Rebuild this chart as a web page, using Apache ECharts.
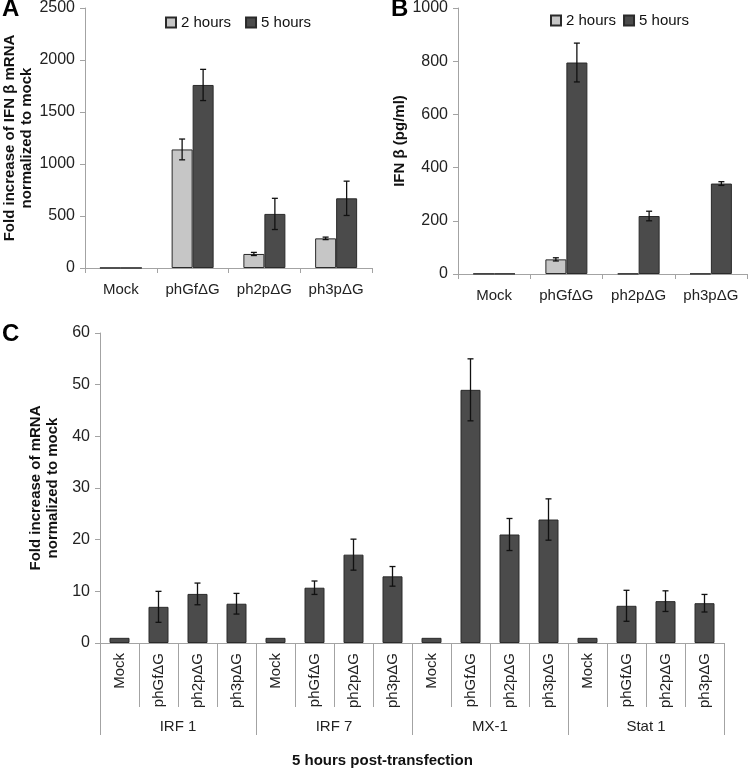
<!DOCTYPE html>
<html>
<head>
<meta charset="utf-8">
<script src="https://cdn.jsdelivr.net/npm/echarts@6/dist/echarts.min.js"></script>
<style>
  html, body { margin: 0; padding: 0; background: #fff; }
  #main { width: 750px; height: 771px; }
</style>
</head>
<body>
<div id="main"></div>
<script>
// panel A / B categories
const constructs = ['Mock', 'phGfΔG', 'ph2pΔG', 'ph3pΔG']
// A: IFN beta mRNA fold increase
const mrna2h = [1, 1140, 135, 285]
const mrna2hErr = [0, 100, 15, 12]
const mrna5h = [1, 1760, 520, 670]
const mrna5hErr = [0, 150, 150, 165]
// B: IFN beta protein (pg/ml)
const ifn2h = [1, 55, 1, 1]
const ifn2hErr = [0, 6, 0, 0]
const ifn5h = [1, 795, 218, 340]
const ifn5hErr = [0, 73, 18, 7]
// C: ISG mRNA, 5 hours
const genes = ['IRF 1', 'IRF 7', 'MX-1', 'Stat 1']
const geneVals = [1, 7.0, 9.5, 7.6, 1, 10.7, 17.1, 12.9, 1, 49.0, 21.0, 23.9, 1, 7.2, 8.1, 7.7]
const geneErr = [0, 3.0, 2.1, 2.0, 0, 1.3, 3.0, 1.9, 0, 6.0, 3.1, 4.0, 0, 3.0, 2.0, 1.7]

const FONT = "'Liberation Sans', Arial, sans-serif"
const LIGHT = '#c6c6c6'
const DARK = '#4b4b4b'
const AXIS = '#a3a3a3'

// C has one category per gene x construct
const cCats = []
genes.forEach(g => constructs.forEach(c => cCats.push(g + '|' + c)))

function errData(vals, errs) {
  return vals.map((v, i) => [i, v, errs[i]])
}

// error bars drawn on top of bars, shifted to the bar centre
function errRender(offset) {
  return function (params, api) {
    const e = api.value(2)
    if (!e) return null
    const x = api.value(0)
    const v = api.value(1)
    const hi = api.coord([x, v + e])
    const lo = api.coord([x, v - e])
    const cx = hi[0] + offset
    const style = { stroke: '#111', lineWidth: 1.3 }
    return {
      type: 'group',
      children: [
        { type: 'line', shape: { x1: cx, y1: hi[1], x2: cx, y2: lo[1] }, style },
        { type: 'line', shape: { x1: cx - 3, y1: hi[1], x2: cx + 3, y2: hi[1] }, style },
        { type: 'line', shape: { x1: cx - 3, y1: lo[1], x2: cx + 3, y2: lo[1] }, style }
      ]
    }
  }
}

const axisLabel = { color: '#222', fontSize: 16, fontFamily: FONT }
const nameStyle = { color: '#111', fontSize: 15, fontWeight: 'bold', fontFamily: FONT, lineHeight: 17 }

function valueAxis(grid, max, interval, name, gap) {
  return {
    type: 'value', gridIndex: grid, min: 0, max: max, interval: interval,
    name: name, nameLocation: 'middle', nameGap: gap, nameRotate: 90,
    nameTextStyle: nameStyle,
    axisLine: { show: true, lineStyle: { color: AXIS } },
    axisTick: { show: true, length: 5, lineStyle: { color: AXIS } },
    axisLabel: Object.assign({ margin: 10, formatter: v => String(v) }, axisLabel),
    splitLine: { show: false }
  }
}

function catAxis(grid) {
  return {
    type: 'category', gridIndex: grid, data: constructs,
    axisLine: { show: true, lineStyle: { color: AXIS } },
    axisTick: { show: true, length: 5, lineStyle: { color: AXIS } },
    axisLabel: Object.assign({ margin: 14, interval: 0 }, axisLabel, { fontSize: 15 })
  }
}

const barStyle = c => ({ color: c, borderColor: '#2a2a2a', borderWidth: 1 })

const legendBase = {
  data: ['2 hours', '5 hours'], icon: 'rect', itemWidth: 10, itemHeight: 10,
  textStyle: { fontSize: 15, color: '#111', fontFamily: FONT }
}

const option = {
  animation: false,
  backgroundColor: '#fff',
  textStyle: { fontFamily: FONT },
  grid: [
    { left: 83, top: 8, width: 289, height: 260 },
    { left: 458, top: 7, width: 289, height: 267 },
    { left: 100, top: 333, width: 624, height: 310 }
  ],
  legend: [
    Object.assign({ left: 160, top: 10, itemGap: 14 }, legendBase),
    Object.assign({ left: 545, top: 8, itemGap: 7 }, legendBase)
  ],
  xAxis: [
    catAxis(0),
    catAxis(1),
    {
      type: 'category', gridIndex: 2, data: cCats,
      axisLine: { show: true, lineStyle: { color: AXIS } },
      axisTick: { show: true, interval: 0, length: 64, lineStyle: { color: AXIS } },
      axisLabel: Object.assign({}, axisLabel, {
        fontSize: 15, rotate: 90, margin: 10, interval: 0,
        formatter: v => v.split('|')[1]
      })
    },
    {
      type: 'category', gridIndex: 2, data: genes, position: 'bottom',
      axisLine: { show: false },
      axisTick: { show: true, interval: 0, length: 92, lineStyle: { color: AXIS } },
      axisLabel: Object.assign({}, axisLabel, { fontSize: 15, margin: 76, interval: 0 })
    }
  ],
  yAxis: [
    valueAxis(0, 2500, 500, 'Fold increase of IFN β mRNA\nnormalized to mock', 50),
    valueAxis(1, 1000, 200, 'IFN β (pg/ml)', 45),
    valueAxis(2, 60, 10, 'Fold increase of mRNA\nnormalized to mock', 38)
  ],
  series: [
    { name: '2 hours', type: 'bar', xAxisIndex: 0, yAxisIndex: 0, data: mrna2h, barWidth: 21, barGap: '0%', itemStyle: barStyle(LIGHT) },
    { name: '5 hours', type: 'bar', xAxisIndex: 0, yAxisIndex: 0, data: mrna5h, barWidth: 21, barGap: '0%', itemStyle: barStyle(DARK) },
    { type: 'custom', xAxisIndex: 0, yAxisIndex: 0, data: errData(mrna2h, mrna2hErr), renderItem: errRender(-10.5), z: 5 },
    { type: 'custom', xAxisIndex: 0, yAxisIndex: 0, data: errData(mrna5h, mrna5hErr), renderItem: errRender(10.5), z: 5 },

    { name: '2 hours', type: 'bar', xAxisIndex: 1, yAxisIndex: 1, data: ifn2h, barWidth: 21, barGap: '0%', itemStyle: barStyle(LIGHT) },
    { name: '5 hours', type: 'bar', xAxisIndex: 1, yAxisIndex: 1, data: ifn5h, barWidth: 21, barGap: '0%', itemStyle: barStyle(DARK) },
    { type: 'custom', xAxisIndex: 1, yAxisIndex: 1, data: errData(ifn2h, ifn2hErr), renderItem: errRender(-10.5), z: 5 },
    { type: 'custom', xAxisIndex: 1, yAxisIndex: 1, data: errData(ifn5h, ifn5hErr), renderItem: errRender(10.5), z: 5 },

    { name: 'genes', type: 'bar', xAxisIndex: 2, yAxisIndex: 2, data: geneVals, barWidth: 20, itemStyle: barStyle(DARK) },
    { type: 'custom', xAxisIndex: 2, yAxisIndex: 2, data: errData(geneVals, geneErr), renderItem: errRender(0), z: 5 }
  ],
  graphic: [
    { type: 'text', left: 2, top: -3, style: { text: 'A', font: 'bold 24px ' + FONT, fill: '#000' } },
    { type: 'text', left: 391, top: -3, style: { text: 'B', font: 'bold 24px ' + FONT, fill: '#000' } },
    { type: 'text', left: 2, top: 322, style: { text: 'C', font: 'bold 24px ' + FONT, fill: '#000' } },
    { type: 'text', left: 292, top: 753, style: { text: '5 hours post-transfection', font: 'bold 15px ' + FONT, fill: '#111' } }
  ]
}

const chart = echarts.init(document.getElementById('main'))
chart.setOption(option)
</script>
</body>
</html>
